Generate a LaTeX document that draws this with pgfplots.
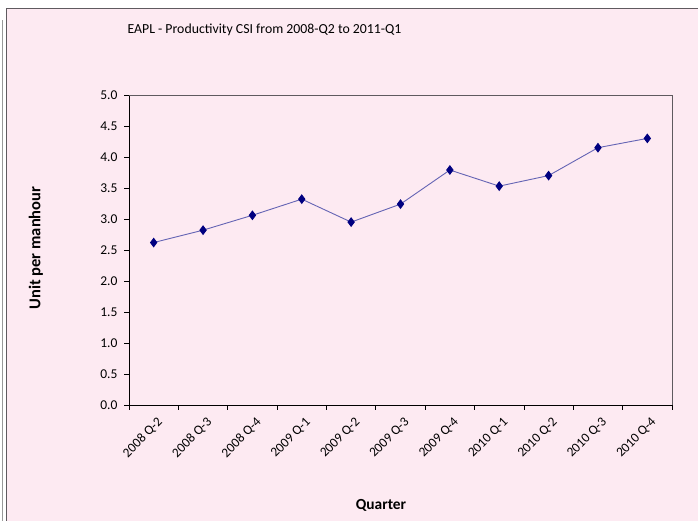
\documentclass[border=0pt]{standalone}
\usepackage{fontspec}
\setmainfont{Carlito}
\usepackage{pgfplots}
\pgfplotsset{compat=1.18}
\definecolor{bgpink}{RGB}{253,234,242}
\definecolor{linecol}{RGB}{100,100,180}
\definecolor{markcol}{RGB}{0,0,128}
\definecolor{framecol}{RGB}{95,90,95}
\begin{document}
\begin{tikzpicture}
\useasboundingbox (0pt,0pt) rectangle (698pt,521pt);
\fill[white] (0pt,0pt) rectangle (698pt,521pt);
\fill[bgpink] (7pt,0pt) rectangle (698pt,512pt);
\draw[framecol, line width=1.4pt] (6.5pt,0pt) -- (6.5pt,512.5pt) -- (698pt,512.5pt);
\draw[gray!80, line width=1.2pt] (2.5pt,0pt) -- (2.5pt,501pt);
\node[anchor=west, font=\fontsize{13.8}{16}\selectfont] at (124pt,491pt)
  {EAPL - Productivity CSI from 2008-Q2 to 2011-Q1};
\node[rotate=90, font=\fontsize{16.5}{18}\selectfont\bfseries] at (36pt,273pt) {Unit per manhour};
\node[font=\fontsize{15.4}{18}\selectfont\bfseries] at (381pt,16pt) {Quarter};
\begin{axis}[
  at={(129pt,116pt)}, anchor=south west,
  scale only axis, width=543pt, height=310pt,
  xmin=0.5, xmax=11.5, ymin=0, ymax=5,
  axis x line=bottom, axis y line=left,
  axis line style={-, black, line width=0.9pt},
  tick align=outside,
  ytick={0,0.5,...,5},
  yticklabel style={/pgf/number format/fixed, /pgf/number format/fixed zerofill, /pgf/number format/precision=1},
  y tick label style={font=\fontsize{13.5}{15}\selectfont, xshift=-3pt},
  xtick={1,...,11},
  xticklabels={2008 Q-2,2008 Q-3,2008 Q-4,2009 Q-1,2009 Q-2,2009 Q-3,2009 Q-4,2010 Q-1,2010 Q-2,2010 Q-3,2010 Q-4},
  major x tick style={draw=none},
  minor xtick={0.5,1.5,...,11.5},
  minor tick length=5pt, major tick length=5pt,
  minor x tick style={black, line width=0.8pt},
  major y tick style={black, line width=0.8pt},
  x tick label style={rotate=45, anchor=east, font=\fontsize{13.3}{15}\selectfont, yshift=-12pt, xshift=1pt},
  /pgf/number format/assume math mode=true,
  clip=false,
]
\draw[framecol, line width=0.9pt] (rel axis cs:0,1) -- (rel axis cs:1,1) -- (rel axis cs:1,0);
\addplot[linecol, line width=0.9pt, mark=diamond*, mark size=4.2pt,
  mark options={fill=markcol, draw=markcol}]
coordinates {
(1, 2.62)
(2, 2.82)
(3, 3.06)
(4, 3.32)
(5, 2.95)
(6, 3.24)
(7, 3.79)
(8, 3.53)
(9, 3.70)
(10, 4.15)
(11, 4.30)
};
\end{axis}
\end{tikzpicture}
\end{document}
